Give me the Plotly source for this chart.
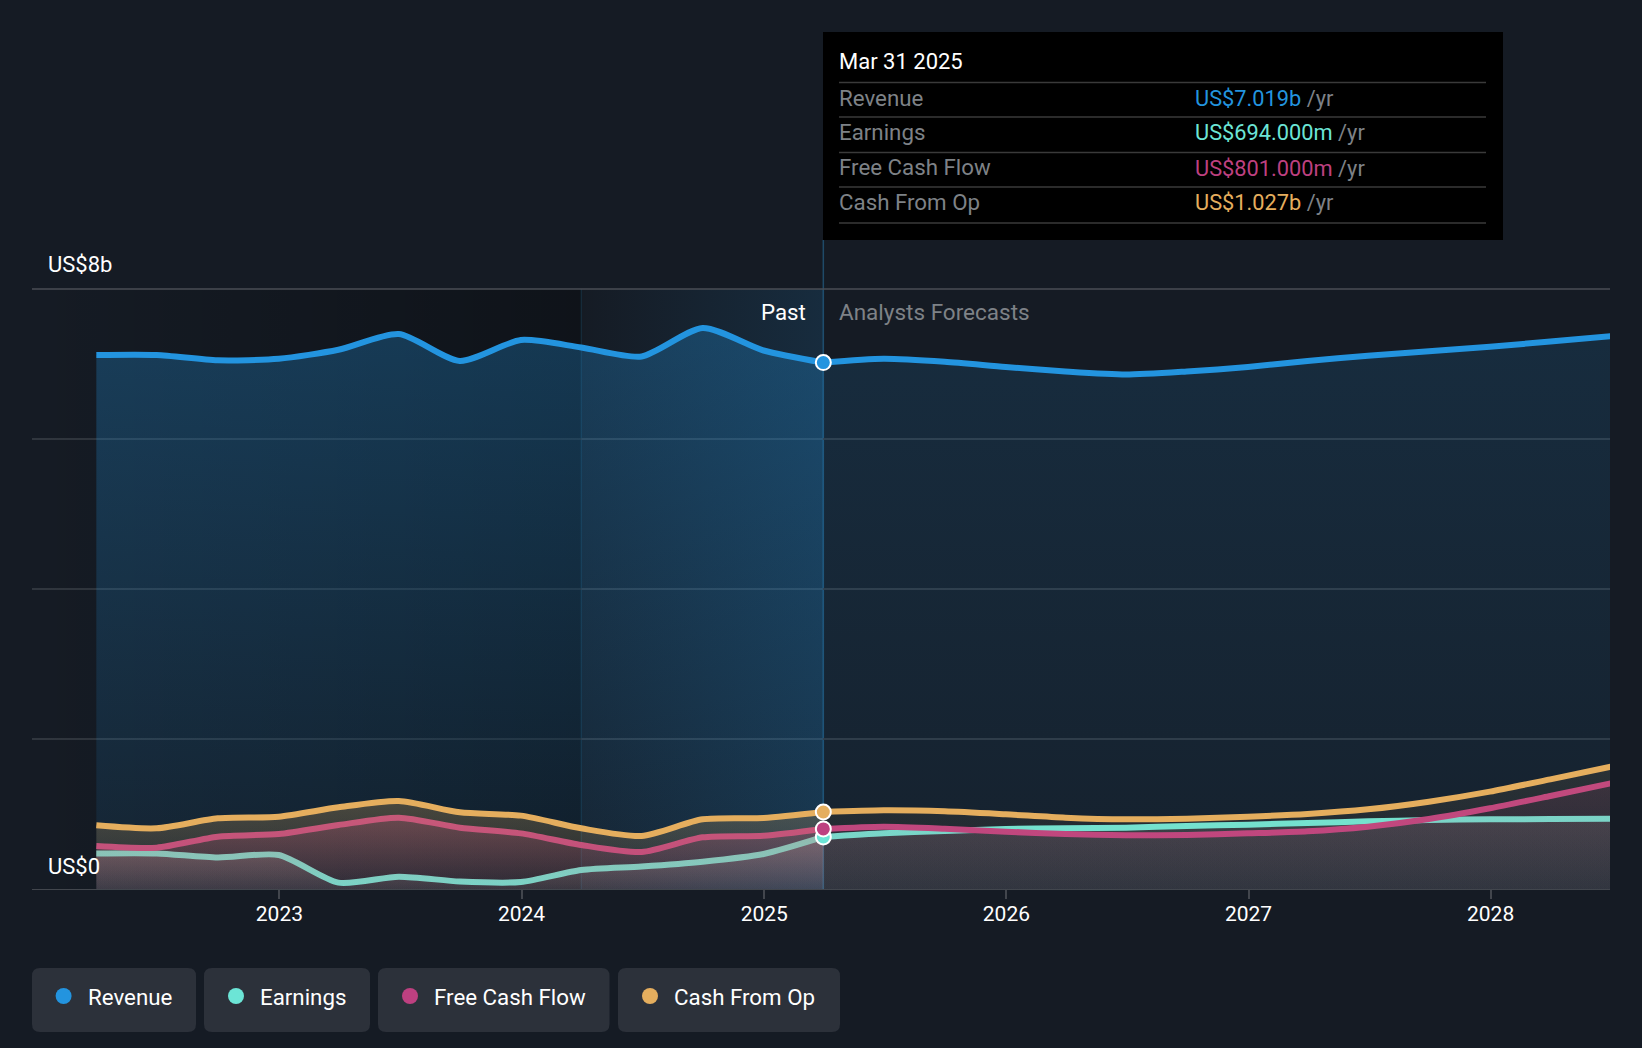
import plotly.graph_objects as go

# Quarter ends, past and forecast (values in US$ billions)
past_dates = ["2022-03-31", "2022-06-30", "2022-09-30", "2022-12-31", "2023-03-31", "2023-06-30", "2023-09-30",
              "2023-12-31", "2024-03-31", "2024-06-30", "2024-09-30", "2024-12-31", "2025-03-31"]
future_dates = ["2025-03-31", "2025-06-30", "2025-09-30", "2025-12-31", "2026-03-31", "2026-06-30", "2026-09-30",
                "2026-12-31", "2027-03-31", "2027-06-30", "2027-09-30", "2027-12-31", "2028-03-31", "2028-06-30"]

revenue_past = [7.12, 7.12, 7.05, 7.07, 7.19, 7.40, 7.04, 7.32, 7.22, 7.10, 7.48, 7.18, 7.019]
earnings_past = [0.475, 0.475, 0.42, 0.453, 0.085, 0.164, 0.10, 0.093, 0.253, 0.30, 0.364, 0.467, 0.694]
fcf_past = [0.573, 0.551, 0.698, 0.733, 0.853, 0.951, 0.818, 0.742, 0.587, 0.493, 0.689, 0.711, 0.801]
cash_past = [0.849, 0.809, 0.942, 0.964, 1.089, 1.173, 1.022, 0.978, 0.809, 0.707, 0.929, 0.947, 1.027]

revenue_future = [7.019, 7.07, 7.03, 6.96, 6.90, 6.86, 6.90, 6.96, 7.04, 7.11, 7.17, 7.23, 7.30, 7.37]
earnings_future = [0.694, 0.742, 0.773, 0.80, 0.809, 0.818, 0.84, 0.858, 0.88, 0.902, 0.92, 0.929, 0.933, 0.938]
fcf_future = [0.801, 0.831, 0.804, 0.764, 0.733, 0.716, 0.72, 0.742, 0.769, 0.831, 0.933, 1.076, 1.24, 1.409]
cash_future = [1.027, 1.049, 1.036, 0.996, 0.951, 0.929, 0.938, 0.964, 1.0, 1.062, 1.164, 1.298, 1.462, 1.631]

names = ["Revenue", "Earnings", "Free Cash Flow", "Cash From Op"]
tooltip_values = ["US$7.019b", "US$694.000m", "US$801.000m", "US$1.027b"]
colors = ["#2394DF", "#6CE5D6", "#BE4080", "#E5AE5E"]
fill_rgb = ["35,148,223", "200,198,198", "190,64,128", "229,174,94"]

year_ticks = ["2023-01-01", "2024-01-01", "2025-01-01", "2026-01-01", "2027-01-01", "2028-01-01"]
year_labels = ["2023", "2024", "2025", "2026", "2027", "2028"]
y_ticks = [0, 2, 4, 6, 8]
y_labels = ["US$0", "", "", "", "US$8b"]
y_label_shift = [23, 0, 0, 0, 25]

BG = "#151b24"
FONT = "Roboto"
FS = 22.3
L, R, T, B = 32, 1610, 289, 889


def px(x):
    return (x - L) / (R - L)


def py(y):
    return (B - y) / (B - T)


def rounded(x0, y0, x1, y1, r=8):
    return (f"M {px(x0 + r)} {py(y0)} L {px(x1 - r)} {py(y0)} Q {px(x1)} {py(y0)} {px(x1)} {py(y0 + r)} "
            f"L {px(x1)} {py(y1 - r)} Q {px(x1)} {py(y1)} {px(x1 - r)} {py(y1)} "
            f"L {px(x0 + r)} {py(y1)} Q {px(x0)} {py(y1)} {px(x0)} {py(y1 - r)} "
            f"L {px(x0)} {py(y0 + r)} Q {px(x0)} {py(y0)} {px(x0 + r)} {py(y0)} Z")


fig = go.Figure()

# darkening towards the one year band, then the band itself
fig.add_trace(go.Scatter(
    x=["2021-12-24", past_dates[8]], y=[y_ticks[-1]] * 2, mode="none", fill="tozeroy",
    fillgradient=dict(type="horizontal", colorscale=[[0, "rgba(0,0,0,0)"], [1, "rgba(0,0,0,0.3)"]]),
))
fig.add_trace(go.Scatter(
    x=[past_dates[8], past_dates[-1]], y=[y_ticks[-1]] * 2, mode="none", fill="tozeroy",
    fillgradient=dict(type="horizontal", colorscale=[[0, "rgba(35,148,223,0)"], [1, "rgba(35,148,223,0.14)"]]),
))

past_series = [revenue_past, earnings_past, fcf_past, cash_past]
future_series = [revenue_future, earnings_future, fcf_future, cash_future]
past_alpha = [(0.29, 0.08), (0.26, 0.10), (0.30, 0.08), (0.26, 0.06)]
future_alpha = [(0.14, 0.05), (0.14, 0.10), (0.12, 0.03), (0.10, 0.03)]

for i in range(4):
    for xs, ys, alpha in [(past_dates, past_series[i], past_alpha[i]),
                          (future_dates, future_series[i], future_alpha[i])]:
        fig.add_trace(go.Scatter(
            x=xs, y=ys, mode="lines", name=names[i],
            line=dict(color=colors[i], width=6, shape="spline", smoothing=0.7),
            fill="tozeroy",
            fillgradient=dict(type="vertical", colorscale=[[0, f"rgba({fill_rgb[i]},{alpha[1]})"],
                                                           [1, f"rgba({fill_rgb[i]},{alpha[0]})"]]),
        ))

# markers on the latest actuals
for i in range(4):
    fig.add_trace(go.Scatter(
        x=[past_dates[-1]], y=[past_series[i][-1]], mode="markers",
        marker=dict(color=colors[i], size=15, line=dict(color="white", width=2)),
    ))

shapes = [
    dict(type="line", xref="x", yref="paper", x0=past_dates[-1], x1=past_dates[-1], y0=0, y1=py(240),
         line=dict(color="#1f4a68", width=1.5), layer="below"),
    dict(type="line", xref="x", yref="paper", x0=past_dates[8], x1=past_dates[8], y0=0, y1=1,
         line=dict(color="#18303f", width=1.5), layer="below"),
    dict(type="line", xref="paper", yref="paper", x0=0, x1=1, y0=1, y1=1, line=dict(color="#4a4e55", width=1.5)),
    dict(type="rect", xref="paper", yref="paper", x0=px(823), x1=px(1503), y0=py(240), y1=py(32),
         fillcolor="black", line_width=0),
]
for y in [82.5, 117, 152.5, 187, 223]:
    shapes.append(dict(type="line", xref="paper", yref="paper", x0=px(839), x1=px(1486), y0=py(y), y1=py(y),
                       line=dict(color="#3a3a3a", width=1.5)))

annotations = []


def text(x, y, s, color="white", anchor="left", size=FS):
    annotations.append(dict(xref="paper", yref="paper", x=px(x), y=py(y), text=s, showarrow=False, xanchor=anchor,
                            yanchor="middle", align=anchor, borderpad=0, borderwidth=0,
                            font=dict(family=FONT, size=size, color=color)))


text(839, 62, "Mar 31 2025", size=22)
for i, y in enumerate([98.5, 132.5, 168, 202.5]):
    text(839, y - 1, names[i], color="#7e8287")
    text(1195, y, f'<span style="color:{colors[i]}">{tooltip_values[i]}</span> /yr', color="#7e8287", size=21.8)

text(806, 311.5, "Past", anchor="right")
text(839, 311.5, "Analysts Forecasts", color="#7e8287", size=22.5)
for v, lab, shift in zip(y_ticks, y_labels, y_label_shift):
    if lab:
        annotations.append(dict(xref="paper", yref="y", x=px(48), y=v, text=lab, showarrow=False, xanchor="left",
                                yanchor="middle", yshift=shift, borderpad=0, borderwidth=0,
                                font=dict(family=FONT, size=22, color="white")))

# legend pills
pills = [(32, 196, 63.6, 88), (204, 370, 236, 260), (378, 609.5, 410, 434), (618, 840, 650, 674)]
for i, (x0, x1, dot, tx) in enumerate(pills):
    shapes.append(dict(type="path", xref="paper", yref="paper", path=rounded(x0, 968, x1, 1032),
                       fillcolor="#2c313a", line_width=0))
    shapes.append(dict(type="circle", xref="paper", yref="paper", x0=px(dot - 8), x1=px(dot + 8),
                       y0=py(1004), y1=py(988), fillcolor=colors[i], line_width=0))
    text(tx, 996.5, names[i])

fig.update_layout(
    width=1642, height=1048, margin=dict(l=L, r=1642 - R, t=T, b=1048 - B),
    paper_bgcolor=BG, plot_bgcolor=BG, showlegend=False, hovermode=False,
    font=dict(family=FONT, size=21, color="white"),
    shapes=shapes, annotations=annotations,
    xaxis=dict(type="date", range=["2021-12-24", "2028-06-29"], tickvals=year_ticks, ticktext=year_labels,
               ticks="outside", ticklen=9, tickwidth=1.5, tickcolor="#42464d", showgrid=False, zeroline=False,
               showline=True, linecolor="#42464d", linewidth=1.2, ticklabelstandoff=-3,
               tickfont=dict(family=FONT, size=21, color="white")),
    yaxis=dict(range=[0, 8], tickvals=y_ticks, showticklabels=False, showgrid=True, gridcolor="#30363e",
               gridwidth=1.5, zeroline=False, showline=False, ticks=""),
)

fig.write_html("out.html", config={"displayModeBar": False},
               post_script=f"document.body.style.margin='0';document.body.style.background='{BG}';")
